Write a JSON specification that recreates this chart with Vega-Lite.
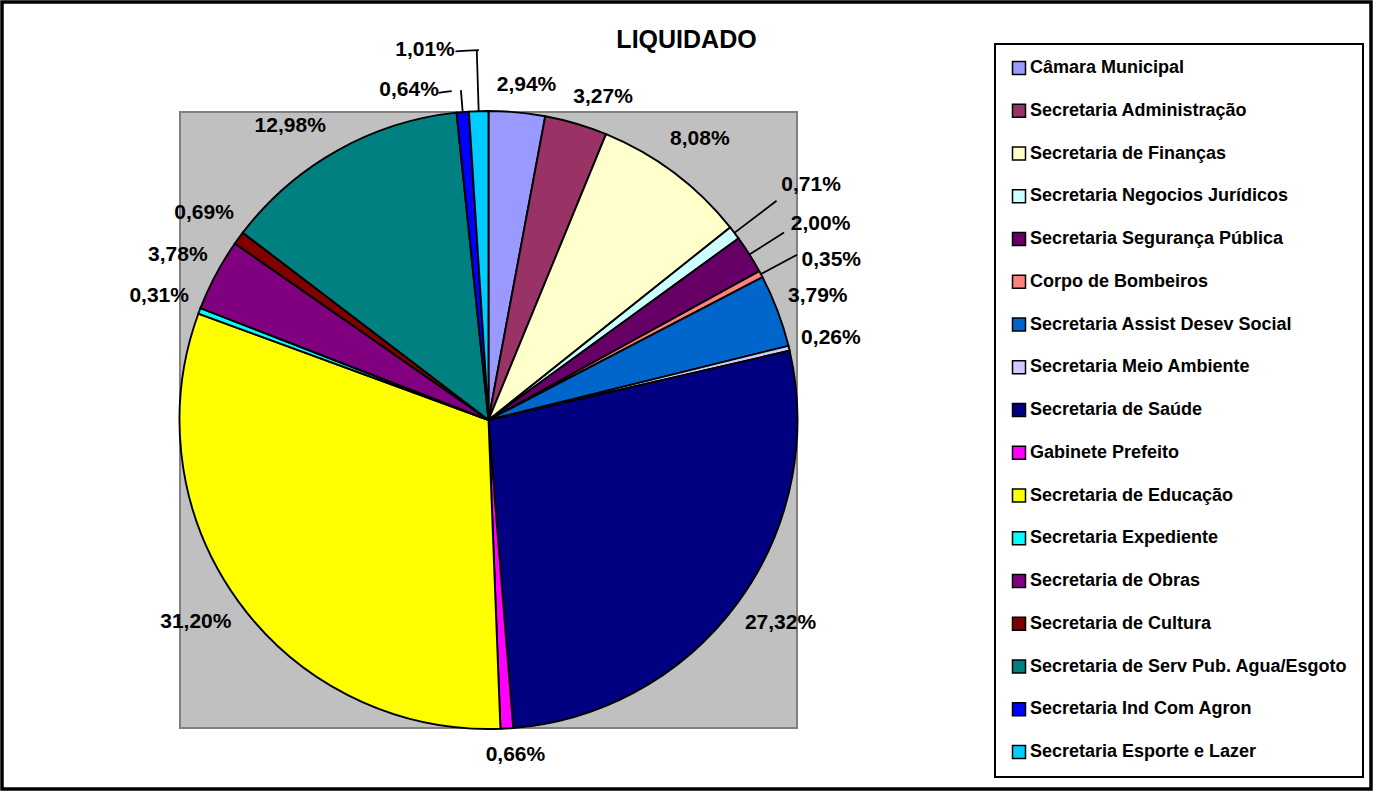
{
  "$schema": "https://vega.github.io/schema/vega-lite/v6.json",
  "width": 617,
  "height": 616,
  "autosize": {"type": "none"},
  "padding": {"left": 180, "top": 112, "right": 576, "bottom": 63},
  "background": "white",
  "view": {"fill": "#C0C0C0", "stroke": "#808080", "strokeWidth": 2},
  "config": {"view": {"fill": "#C0C0C0", "stroke": "#808080", "strokeWidth": 2}},
  "title": {"text": "LIQUIDADO", "font": "Liberation Sans", "fontSize": 25, "fontWeight": "bold", "color": "black", "anchor": "middle", "frame": "group", "dx": 198, "dy": 55, "offset": 4},
  "data": {"values": [
    {"nome": "Câmara Municipal", "valor": 2.94, "rotulo": "2,94%", "ordem": 1},
    {"nome": "Secretaria Administração", "valor": 3.27, "rotulo": "3,27%", "ordem": 2},
    {"nome": "Secretaria de Finanças", "valor": 8.08, "rotulo": "8,08%", "ordem": 3},
    {"nome": "Secretaria Negocios Jurídicos", "valor": 0.71, "rotulo": "0,71%", "ordem": 4},
    {"nome": "Secretaria Segurança Pública", "valor": 2.00, "rotulo": "2,00%", "ordem": 5},
    {"nome": "Corpo de Bombeiros", "valor": 0.35, "rotulo": "0,35%", "ordem": 6},
    {"nome": "Secretaria Assist Desev Social", "valor": 3.79, "rotulo": "3,79%", "ordem": 7},
    {"nome": "Secretaria Meio Ambiente", "valor": 0.26, "rotulo": "0,26%", "ordem": 8},
    {"nome": "Secretaria de Saúde", "valor": 27.32, "rotulo": "27,32%", "ordem": 9},
    {"nome": "Gabinete Prefeito", "valor": 0.66, "rotulo": "0,66%", "ordem": 10},
    {"nome": "Secretaria de Educação", "valor": 31.20, "rotulo": "31,20%", "ordem": 11},
    {"nome": "Secretaria Expediente", "valor": 0.31, "rotulo": "0,31%", "ordem": 12},
    {"nome": "Secretaria de Obras", "valor": 3.78, "rotulo": "3,78%", "ordem": 13},
    {"nome": "Secretaria de Cultura", "valor": 0.69, "rotulo": "0,69%", "ordem": 14},
    {"nome": "Secretaria de Serv Pub. Agua/Esgoto", "valor": 12.98, "rotulo": "12,98%", "ordem": 15},
    {"nome": "Secretaria Ind Com Agron", "valor": 0.64, "rotulo": "0,64%", "ordem": 16},
    {"nome": "Secretaria Esporte e Lazer", "valor": 1.01, "rotulo": "1,01%", "ordem": 17}
  ]},
  "encoding": {
    "theta": {"field": "valor", "type": "quantitative", "stack": true},
    "order": {"field": "ordem", "type": "quantitative"}
  },
  "layer": [
    {
      "mark": {"type": "arc", "radius": 309, "strokeWidth": 1.9},
      "encoding": {
        "fill": {
          "field": "nome", "type": "nominal", "sort": null,
          "scale": {
            "domain": ["Câmara Municipal", "Secretaria Administração", "Secretaria de Finanças", "Secretaria Negocios Jurídicos", "Secretaria Segurança Pública", "Corpo de Bombeiros", "Secretaria Assist Desev Social", "Secretaria Meio Ambiente", "Secretaria de Saúde", "Gabinete Prefeito", "Secretaria de Educação", "Secretaria Expediente", "Secretaria de Obras", "Secretaria de Cultura", "Secretaria de Serv Pub. Agua/Esgoto", "Secretaria Ind Com Agron", "Secretaria Esporte e Lazer"],
            "range": ["#9999FF", "#993366", "#FFFFCC", "#CCFFFF", "#660066", "#FF8080", "#0066CC", "#CCCCFF", "#000080", "#FF00FF", "#FFFF00", "#00FFFF", "#800080", "#800000", "#008080", "#0000FF", "#00CCFF"]
          },
          "legend": {
            "orient": "none", "legendX": 815, "legendY": -68, "title": null,
            "symbolType": "square", "symbolSize": 169, "symbolStrokeColor": "black", "symbolStrokeWidth": 1.5,
            "labelFont": "Liberation Sans", "labelFontSize": 18, "labelFontWeight": "bold", "labelColor": "black",
            "labelOffset": 2, "labelLimit": 0, "rowPadding": 22.75, "padding": 15,
            "strokeColor": "black", "fillColor": "white",
            "encode": {"legend": {"update": {"strokeWidth": {"value": 2}}}}
          }
        },
        "stroke": {
          "field": "valor", "type": "quantitative",
          "scale": {"range": ["#000000", "#000000"]},
          "legend": {
            "orient": "none", "direction": "horizontal", "legendX": -178, "legendY": -110,
            "title": null, "padding": 0, "labelExpr": "''", "labelFontSize": 1,
            "gradientLength": 1369, "gradientThickness": 787,
            "gradientStrokeColor": "black", "gradientStrokeWidth": 3.5,
            "encode": {"gradient": {"update": {"fillOpacity": {"value": 0}}}}
          }
        }
      }
    },
    {
      "mark": {"type": "arc", "radius": 362, "radius2": 309, "padAngle": 1.5, "fill": "transparent", "stroke": "black", "strokeWidth": 1.8},
      "encoding": {"strokeOpacity": {"condition": {"test": {"field": "ordem", "equal": 4}, "value": 1}, "value": 0}}
    },
    {
      "mark": {"type": "arc", "radius": 350, "radius2": 309, "padAngle": 1.5, "fill": "transparent", "stroke": "black", "strokeWidth": 1.8},
      "encoding": {"strokeOpacity": {"condition": {"test": {"field": "ordem", "oneOf": [5, 6]}, "value": 1}, "value": 0}}
    },
    {
      "mark": {"type": "arc", "radius": 370, "radius2": 309, "padAngle": 1.5, "fill": "transparent", "stroke": "black", "strokeWidth": 1.8},
      "encoding": {"strokeOpacity": {"condition": {"test": {"field": "ordem", "equal": 17}, "value": 1}, "value": 0}}
    },
    {
      "mark": {"type": "arc", "radius": 331, "radius2": 309, "padAngle": 1.5, "fill": "transparent", "stroke": "black", "strokeWidth": 1.8},
      "encoding": {"strokeOpacity": {"condition": {"test": {"field": "ordem", "equal": 16}, "value": 1}, "value": 0}}
    },
    {
      "mark": {"type": "arc", "radius": 370, "radius2": 370, "thetaOffset": -0.0258, "theta2Offset": -0.0297, "fill": "transparent", "stroke": "black", "strokeWidth": 1.8},
      "encoding": {"strokeOpacity": {"condition": {"test": {"field": "ordem", "equal": 17}, "value": 1}, "value": 0}}
    },
    {
      "mark": {"type": "arc", "radius": 331, "radius2": 331, "thetaOffset": -0.048, "theta2Offset": -0.0211, "fill": "transparent", "stroke": "black", "strokeWidth": 1.8},
      "encoding": {"strokeOpacity": {"condition": {"test": {"field": "ordem", "equal": 16}, "value": 1}, "value": 0}}
    },
    {
      "mark": {"type": "text", "radius": 352, "font": "Liberation Sans", "fontSize": 21, "fontWeight": "bold", "color": "black", "align": "center", "baseline": "middle"},
      "encoding": {"text": {"field": "rotulo"}, "opacity": {"condition": {"test": {"field": "ordem", "oneOf": [3, 7, 8, 12, 13, 14]}, "value": 1}, "value": 0}}
    },
    {
      "mark": {"type": "text", "radius": 362, "dy": -11, "font": "Liberation Sans", "fontSize": 21, "fontWeight": "bold", "color": "black", "align": "center", "baseline": "middle"},
      "encoding": {"text": {"field": "rotulo"}, "opacity": {"condition": {"test": {"field": "ordem", "oneOf": [9, 11]}, "value": 1}, "value": 0}}
    },
    {
      "mark": {"type": "text", "radius": 352, "dx": -26, "dy": 13, "font": "Liberation Sans", "fontSize": 21, "fontWeight": "bold", "color": "black", "align": "center", "baseline": "middle"},
      "encoding": {"text": {"field": "rotulo"}, "opacity": {"condition": {"test": {"field": "ordem", "equal": 15}, "value": 1}, "value": 0}}
    },
    {
      "mark": {"type": "text", "radius": 336, "dx": 7, "font": "Liberation Sans", "fontSize": 21, "fontWeight": "bold", "color": "black", "align": "center", "baseline": "middle"},
      "encoding": {"text": {"field": "rotulo"}, "opacity": {"condition": {"test": {"field": "ordem", "oneOf": [1, 10]}, "value": 1}, "value": 0}}
    },
    {
      "mark": {"type": "text", "radius": 337, "dx": 19, "font": "Liberation Sans", "fontSize": 21, "fontWeight": "bold", "color": "black", "align": "center", "baseline": "middle"},
      "encoding": {"text": {"field": "rotulo"}, "opacity": {"condition": {"test": {"field": "ordem", "equal": 2}, "value": 1}, "value": 0}}
    },
    {
      "mark": {"type": "text", "radius": 368, "dy": -12, "font": "Liberation Sans", "fontSize": 21, "fontWeight": "bold", "color": "black", "align": "left", "baseline": "middle"},
      "encoding": {"text": {"field": "rotulo"}, "opacity": {"condition": {"test": {"field": "ordem", "equal": 4}, "value": 1}, "value": 0}}
    },
    {
      "mark": {"type": "text", "radius": 358, "dy": -4, "font": "Liberation Sans", "fontSize": 21, "fontWeight": "bold", "color": "black", "align": "left", "baseline": "middle"},
      "encoding": {"text": {"field": "rotulo"}, "opacity": {"condition": {"test": {"field": "ordem", "equal": 5}, "value": 1}, "value": 0}}
    },
    {
      "mark": {"type": "text", "radius": 355, "dy": 8, "font": "Liberation Sans", "fontSize": 21, "fontWeight": "bold", "color": "black", "align": "left", "baseline": "middle"},
      "encoding": {"text": {"field": "rotulo"}, "opacity": {"condition": {"test": {"field": "ordem", "equal": 6}, "value": 1}, "value": 0}}
    },
    {
      "mark": {"type": "text", "radius": 370, "dx": -22, "font": "Liberation Sans", "fontSize": 21, "fontWeight": "bold", "color": "black", "align": "right", "baseline": "middle"},
      "encoding": {"text": {"field": "rotulo"}, "opacity": {"condition": {"test": {"field": "ordem", "equal": 17}, "value": 1}, "value": 0}}
    },
    {
      "mark": {"type": "text", "radius": 331, "dx": -22, "font": "Liberation Sans", "fontSize": 21, "fontWeight": "bold", "color": "black", "align": "right", "baseline": "middle"},
      "encoding": {"text": {"field": "rotulo"}, "opacity": {"condition": {"test": {"field": "ordem", "equal": 16}, "value": 1}, "value": 0}}
    }
  ]
}
